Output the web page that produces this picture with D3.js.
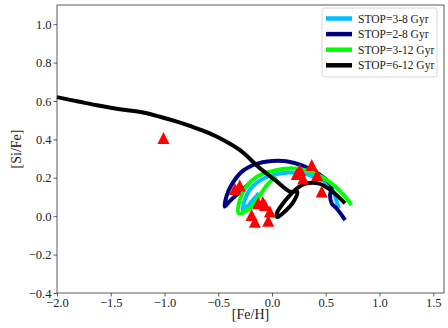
<!DOCTYPE html>
<html>
<head>
<meta charset="utf-8">
<script src="https://cdn.jsdelivr.net/npm/d3@7"></script>
<style>
  body { margin: 0; background: #fff; }
  svg { display: block; font-family: "Liberation Serif", "DejaVu Serif", serif; }
</style>
</head>
<body>
<svg width="448" height="328"></svg>
<script>
// model tracks, [Fe/H] vs [Si/Fe]
var stop38 = [[-0.12,0.12],[-0.2,0.07],[-0.27,0.03],[-0.25,0.09],[-0.21,0.135],[-0.14,0.175],[-0.035,0.207],[0.15,0.228],[0.34,0.215],[0.49,0.18],[0.57,0.13],[0.6,0.08],[0.62,0.04]];
var stop28 = [[-0.22,0.165],[-0.31,0.12],[-0.39,0.08],[-0.44,0.05],[-0.42,0.11],[-0.38,0.16],[-0.28,0.232],[-0.13,0.275],[0.06,0.289],[0.21,0.277],[0.37,0.241],[0.49,0.197],[0.555,0.154],[0.54,0.11],[0.555,0.067],[0.6,0.041],[0.68,-0.02]];
var stop312 = [[0.04,0.205],[-0.035,0.17],[-0.1,0.12],[-0.16,0.067],[-0.25,0.024],[-0.31,0.015],[-0.3,0.084],[-0.24,0.154],[-0.14,0.206],[-0.02,0.232],[0.15,0.249],[0.31,0.24],[0.46,0.206],[0.59,0.154],[0.68,0.102],[0.74,0.058]];
var stop612 = [[-2.0,0.62],[-1.79,0.596],[-1.6,0.575],[-1.415,0.557],[-1.2,0.54],[-1.043,0.518],[-0.9,0.495],[-0.764,0.47],[-0.62,0.44],[-0.485,0.406],[-0.3,0.345],[-0.128,0.258],[0.027,0.189],[0.167,0.128],[0.235,0.128],[0.2,0.075],[0.13,0.03],[0.05,-0.005],[0.045,0.015],[0.1,0.065],[0.183,0.119],[0.244,0.15],[0.322,0.171],[0.43,0.171],[0.523,0.145],[0.616,0.102],[0.679,0.067]];

// observed stars
var starsFeH = [-1.01,-0.30,-0.345,-0.19,-0.159,-0.035,-0.02,-0.128,-0.085,-0.066,0.37,0.23,0.29,0.42,0.462,0.26];
var starsSiFe = [0.407,0.16,0.142,0.006,-0.029,-0.024,0.024,0.067,0.074,0.058,0.267,0.22,0.197,0.215,0.128,0.24];

var seriesNames = ["STOP=3-8 Gyr","STOP=2-8 Gyr","STOP=3-12 Gyr","STOP=6-12 Gyr"];
var seriesColors = ["#00bfff","#000080","#00ff00","#000000"];
var seriesData = [stop38, stop28, stop312, stop612];

var xTicks = [-2.0,-1.5,-1.0,-0.5,0.0,0.5,1.0,1.5];
var yTicks = [-0.4,-0.2,0.0,0.2,0.4,0.6,0.8,1.0];

var svg = d3.select("svg");
var margin = {left: 57, right: 4, top: 5, bottom: 35};
var W = 448, H = 328;
var serif = "'Liberation Serif', 'DejaVu Serif', serif";

var x = d3.scaleLinear().domain([-2.0, 1.6]).range([margin.left, W - margin.right]);
var y = d3.scaleLinear().domain([-0.4, 1.1]).range([H - margin.bottom, margin.top]);

svg.append("rect").attr("width", W).attr("height", H).attr("fill", "#fff");

var fmt = function(d) { return d3.format(".1f")(d).replace("-", "\u2212"); };

// axes
var xAxis = svg.append("g")
  .attr("transform", "translate(0," + y(-0.4) + ")")
  .call(d3.axisBottom(x).tickValues(xTicks).tickFormat(fmt).tickSize(3.5).tickPadding(2));
var yAxis = svg.append("g")
  .attr("transform", "translate(" + x(-2.0) + ",0)")
  .call(d3.axisLeft(y).tickValues(yTicks).tickFormat(fmt).tickSize(3.5).tickPadding(2));
[xAxis, yAxis].forEach(function(a) {
  a.attr("font-family", serif).attr("font-size", 12.5);
  a.select(".domain").remove();
  a.selectAll("line").attr("stroke", "#333").attr("stroke-width", 0.8);
  a.selectAll("text").attr("fill", "#222");
});

// lines
var line = d3.line().x(function(d) { return x(d[0]); }).y(function(d) { return y(d[1]); })
  .curve(d3.curveCatmullRom.alpha(0.5));

var plot = svg.append("g");
seriesData.forEach(function(s, i) {
  plot.append("path")
    .attr("d", line(s))
    .attr("fill", "none")
    .attr("stroke", seriesColors[i])
    .attr("stroke-width", 4)
    .attr("stroke-linejoin", "round")
    .attr("stroke-linecap", "butt");
});

// triangles
var tri = function(s) { return "M0," + (-s) + "L" + s + "," + s + "L" + (-s) + "," + s + "Z"; };
plot.selectAll(".star")
  .data(starsFeH.map(function(v, i) { return [v, starsSiFe[i]]; }))
  .enter().append("path")
  .attr("class", "star")
  .attr("d", tri(6))
  .attr("fill", "#ff0000")
  .attr("transform", function(d) { return "translate(" + x(d[0]) + "," + y(d[1]) + ")"; });

// frame
svg.append("rect")
  .attr("x", x(-2.0)).attr("y", y(1.1))
  .attr("width", x(1.6) - x(-2.0)).attr("height", y(-0.4) - y(1.1))
  .attr("fill", "none").attr("stroke", "#333").attr("stroke-width", 0.8);

// axis labels
svg.append("text")
  .attr("x", (x(-2.0) + x(1.6)) / 2).attr("y", 319)
  .attr("text-anchor", "middle").style("font-size", "14px").attr("fill", "#222")
  .text("[Fe/H]");
svg.append("text")
  .attr("transform", "translate(21," + (y(-0.4) + y(1.1)) / 2 + ") rotate(-90)")
  .attr("text-anchor", "middle").style("font-size", "14px").attr("fill", "#222")
  .text("[Si/Fe]");

// legend
var lg = svg.append("g").attr("transform", "translate(322,8)");
lg.append("rect").attr("width", 115).attr("height", 69).attr("rx", 2.5)
  .attr("fill", "#fff").attr("fill-opacity", 0.8).attr("stroke", "#ccc").attr("stroke-width", 0.8);
seriesNames.forEach(function(n, i) {
  var yy = 10.5 + i * 15.6;
  lg.append("line").attr("x1", 4).attr("x2", 30).attr("y1", yy).attr("y2", yy)
    .attr("stroke", seriesColors[i]).attr("stroke-width", 4.5);
  lg.append("text").attr("x", 36).attr("y", yy + 4).style("font-size", "11.5px")
    .attr("fill", "#222").text(n);
});
</script>
</body>
</html>
